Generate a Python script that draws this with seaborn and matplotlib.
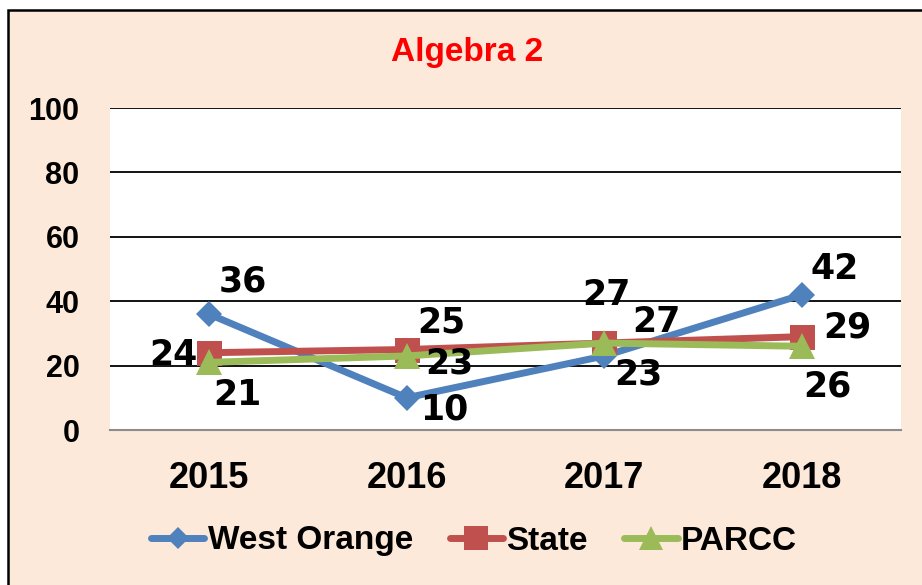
import matplotlib
matplotlib.use("Agg")
import pandas as pd
import seaborn as sns
import matplotlib.pyplot as plt
from matplotlib import font_manager
from matplotlib.patches import Rectangle

# data
years = [2015, 2016, 2017, 2018]
west_orange = [36, 10, 23, 42]
state = [24, 25, 27, 29]
parcc = [21, 23, 27, 26]

series_names = ["West Orange", "State", "PARCC"]
colors = {"West Orange": "#4F81BD", "State": "#C0504D", "PARCC": "#9BBB59"}
markers = {"West Orange": "D", "State": "s", "PARCC": "^"}
marker_sizes = {"West Orange": 13, "State": 18, "PARCC": 19}
legend_marker_sizes = {"West Orange": 11, "State": 17, "PARCC": 17}

# label offsets in pixels (dx, dy), one per point
label_offsets = {
    "West Orange": [(34, 33), (38, -12), (34, -19), (32, 26)],
    "State": [(-36, -2), (35, 27), (2, 48), (45, 9)],
    "PARCC": [(29, -33), (43, -8), (52, 21), (25, -40)],
}

df = pd.DataFrame({
    "year": years * 3,
    "value": west_orange + state + parcc,
    "series": [s for s in series_names for _ in years],
})

sns.set_theme(style="white")
avail = {f.name for f in font_manager.fontManager.ttflist}
base_font = "Liberation Sans" if "Liberation Sans" in avail else "DejaVu Sans"
plt.rcParams["font.family"] = [base_font, "DejaVu Sans"]
plt.rcParams["text.color"] = "black"
plt.rcParams["xtick.color"] = "black"
plt.rcParams["ytick.color"] = "black"

fig = plt.figure(figsize=(9.22, 5.85), dpi=100)
fig.patch.set_facecolor("white")
W, H = 922, 585
fig.patches.append(Rectangle((8 / W, -0.1), 1.2, 1 - 10 / H + 0.1, transform=fig.transFigure,
                             facecolor="#FDE9D9", edgecolor="black", linewidth=1.8, zorder=-5))

ax = fig.add_axes([110 / W, 1 - 430 / H, (901 - 110) / W, (430 - 108) / H])
ax.set_facecolor("white")

sns.lineplot(data=df, x="year", y="value", hue="series", style="series",
             palette=colors, markers=markers, dashes=False, linewidth=5,
             markeredgewidth=0, ax=ax, legend=True, zorder=3)

for line, name in zip(ax.lines[:3], series_names):
    line.set_markersize(marker_sizes[name])

for name, vals in zip(series_names, [west_orange, state, parcc]):
    for yr, v, (dx, dy) in zip(years, vals, label_offsets[name]):
        ax.annotate(str(v), (yr, v), xytext=(dx, dy), textcoords="offset pixels",
                    ha="center", va="center", fontsize=25, fontweight="bold",
                    family="DejaVu Sans", color="black", zorder=5)

ax.set_xlim(2014.5, 2018.5)
ax.set_ylim(0, 100)
ax.set_xticks(years)
ax.set_xticklabels([str(y) for y in years])
ax.set_yticks([0, 20, 40, 60, 80, 100])
ax.tick_params(axis="y", length=0, pad=22, labelsize=22)
ax.tick_params(axis="x", length=0, pad=22, labelsize=26)
for lab in ax.get_xticklabels() + ax.get_yticklabels():
    lab.set_fontweight("bold")
ax.set_xlabel("")
ax.set_ylabel("")
for g in [20, 40, 60, 80, 100]:
    ax.axhline(g, color="black", linewidth=1.3, zorder=1)
for side in ["left", "right", "top"]:
    ax.spines[side].set_visible(False)
ax.spines["bottom"].set_color("#8C8C8C")
ax.spines["bottom"].set_linewidth(1.5)

handles, labels = ax.get_legend_handles_labels()
ax.legend_.remove()
leg = fig.legend(handles, labels, loc="center", bbox_to_anchor=(474 / W, 1 - 541 / H),
                 ncol=3, frameon=False, handlelength=1.6, handletextpad=0.1,
                 columnspacing=1.1, prop={"weight": "bold", "size": 24})
for h, name in zip(leg.legend_handles, labels):
    h.set_linewidth(5)
    h.set_markersize(legend_marker_sizes[name])

fig.text(467 / W, 1 - 52 / H, "Algebra 2", ha="center", va="center",
         color="#FF0000", fontsize=24, fontweight="bold")

fig.savefig("out.png", dpi=100, facecolor=fig.get_facecolor())
